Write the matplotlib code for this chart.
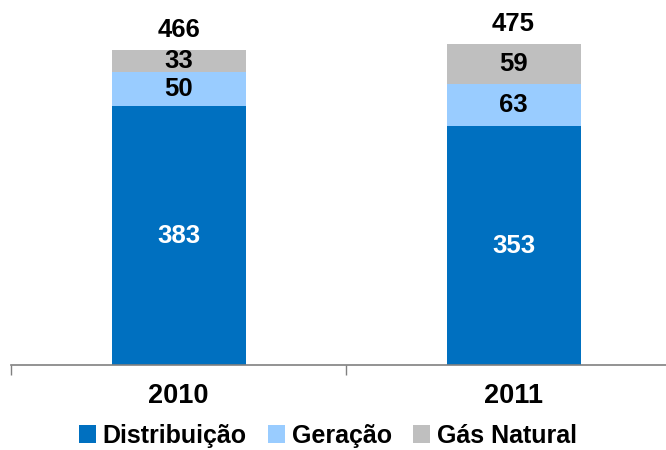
import matplotlib.pyplot as plt
import numpy as np

plt.rcParams['font.family'] = ['Liberation Sans', 'DejaVu Sans']
plt.rcParams['font.weight'] = 'bold'

years = ['2010', '2011']
distribuicao = [383, 353]
geracao = [50, 63]
gas_natural = [33, 59]
totals = [466, 475]

fig = plt.figure(figsize=(6.66, 4.5), dpi=100)
ax = fig.add_axes([11 / 666, 85 / 450, 670 / 666, 355 / 450])

x = np.arange(len(years))
w = 0.4
b1 = ax.bar(x, distribuicao, w, color='#0070C0', label='Distribuição')
b2 = ax.bar(x, geracao, w, bottom=distribuicao, color='#99CCFF', label='Geração')
bottom3 = np.array(distribuicao) + np.array(geracao)
b3 = ax.bar(x, gas_natural, w, bottom=bottom3, color='#BFBFBF', label='Gás Natural')

fs = 18.5
for i in range(len(years)):
    ax.text(x[i], distribuicao[i] / 2, str(distribuicao[i]), ha='center', va='center',
            color='white', fontsize=fs, fontweight='bold')
    ax.text(x[i], distribuicao[i] + geracao[i] / 2, str(geracao[i]), ha='center', va='center',
            color='black', fontsize=fs, fontweight='bold')
    ax.text(x[i], bottom3[i] + gas_natural[i] / 2, str(gas_natural[i]), ha='center', va='center',
            color='black', fontsize=fs, fontweight='bold')
    ax.text(x[i], totals[i] + 29, str(totals[i]), ha='center', va='center',
            color='black', fontsize=fs, fontweight='bold')

ax.set_xlim(-0.5, 1.5)
ax.set_ylim(0, 525)
ax.set_yticks([])
ax.set_xticks(x)
ax.set_xticklabels(years, fontsize=19.5, fontweight='bold')
ax.tick_params(axis='x', which='major', length=0, pad=13)
ax.set_xticks([-0.5, 0.5, 1.5], minor=True)
ax.tick_params(axis='x', which='minor', length=7, color='#808080', width=1)
for s in ['top', 'right', 'left']:
    ax.spines[s].set_visible(False)
ax.spines['bottom'].set_color('#808080')
ax.spines['bottom'].set_linewidth(1.2)

fig.legend(handles=[b1, b2, b3], loc='lower center', bbox_to_anchor=(0.492, -0.026), ncol=3,
           frameon=False, handlelength=0.7, handleheight=0.7, borderpad=0.05,
           handletextpad=0.25, columnspacing=0.85, prop={'weight': 'bold', 'size': 18})

fig.savefig('out.png', dpi=100)
